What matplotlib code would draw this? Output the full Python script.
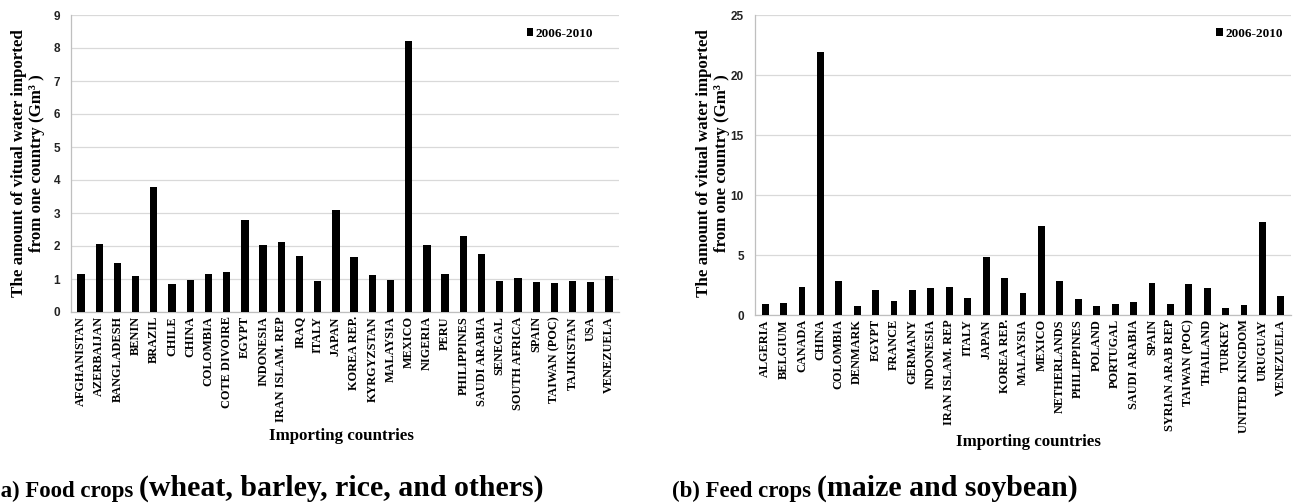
import matplotlib
matplotlib.use("Agg")
import matplotlib.pyplot as plt

# --- data
food_countries = ["AFGHANISTAN", "AZERBAIJAN", "BANGLADESH", "BENIN", "BRAZIL",
                  "CHILE", "CHINA", "COLOMBIA", "COTE DIVOIRE", "EGYPT",
                  "INDONESIA", "IRAN ISLAM. REP", "IRAQ", "ITALY", "JAPAN",
                  "KOREA REP.", "KYRGYZSTAN", "MALAYSIA", "MEXICO", "NIGERIA",
                  "PERU", "PHILIPPINES", "SAUDI ARABIA", "SENEGAL",
                  "SOUTH AFRICA", "SPAIN", "TAIWAN (POC)", "TAJIKISTAN", "USA",
                  "VENEZUELA"]
food_values = [1.16, 2.06, 1.48, 1.10, 3.80, 0.84, 0.98, 1.16, 1.22, 2.80,
               2.03, 2.12, 1.71, 0.93, 3.10, 1.66, 1.11, 0.98, 8.22, 2.02,
               1.14, 2.31, 1.76, 0.93, 1.04, 0.92, 0.88, 0.95, 0.90, 1.08]

feed_countries = ["ALGERIA", "BELGIUM", "CANADA", "CHINA", "COLOMBIA",
                  "DENMARK", "EGYPT", "FRANCE", "GERMANY", "INDONESIA",
                  "IRAN ISLAM. REP", "ITALY", "JAPAN", "KOREA REP.",
                  "MALAYSIA", "MEXICO", "NETHERLANDS", "PHILIPPINES",
                  "POLAND", "PORTUGAL", "SAUDI ARABIA", "SPAIN",
                  "SYRIAN ARAB REP", "TAIWAN (POC)", "THAILAND", "TURKEY",
                  "UNITED KINGDOM", "URUGUAY", "VENEZUELA"]
feed_values = [0.92, 1.00, 2.35, 21.9, 2.80, 0.75, 2.07, 1.20, 2.07, 2.29,
               2.34, 1.38, 4.83, 3.07, 1.82, 7.43, 2.85, 1.34, 0.78, 0.89,
               1.09, 2.63, 0.89, 2.57, 2.29, 0.56, 0.81, 7.74, 1.56]

series_label = "2006-2010"
ylabel = "The amount of vitual water imported\nfrom one country (Gm³ )"
xlabel = "Importing countries"

SERIF = "Liberation Serif"
SANS = "Liberation Sans"
GRID = "#d9d9d9"

fig = plt.figure(figsize=(12.93, 5.03), dpi=100)
W, H = 1293, 503


def px_axes(x0, x1, ytop, ybot):
    return fig.add_axes([x0 / W, 1 - ybot / H, (x1 - x0) / W, (ybot - ytop) / H])


def draw_panel(ax, countries, values, ymax, ystep, width, leg_anchor):
    x = range(len(countries))
    ax.bar(x, values, width=width, color="black", label=series_label, zorder=3)
    ax.set_xlim(-0.55, len(countries) - 0.45)
    ax.set_ylim(0, ymax)
    ax.set_yticks(range(0, ymax + 1, ystep))
    ax.set_xticks(list(x))
    ax.set_xticklabels(countries, rotation=90, fontfamily=SERIF,
                       fontweight="bold", fontsize=8.8)
    for lab in ax.get_yticklabels():
        lab.set_fontfamily(SANS)
        lab.set_fontweight("bold")
        lab.set_fontsize(8.5)
        lab.set_color("#222222")
    ax.tick_params(axis="both", length=0)
    ax.tick_params(axis="y", pad=8)
    ax.tick_params(axis="x", pad=3)
    ax.grid(axis="y", color=GRID, linewidth=0.9, zorder=0)
    ax.set_axisbelow(True)
    for s in ("top", "right"):
        ax.spines[s].set_visible(False)
    for s in ("left", "bottom"):
        ax.spines[s].set_color("#bfbfbf")
        ax.spines[s].set_linewidth(0.9)
    ax.legend(loc="upper right", bbox_to_anchor=leg_anchor,
              frameon=False, handlelength=0.5, handleheight=0.5,
              handletextpad=0.15, borderaxespad=0,
              prop={"family": SERIF, "weight": "bold", "size": 9.5})


ax1 = px_axes(71, 619, 15, 312)
draw_panel(ax1, food_countries, food_values, 9, 1, 0.4, (0.962, 0.975))

ax2 = px_axes(755, 1291, 15, 315)
draw_panel(ax2, feed_countries, feed_values, 25, 5, 0.37, (0.994, 0.975))

# y labels
for xc in (28, 713):
    fig.text(xc / W, 1 - 163 / H, ylabel, rotation=90, ha="center",
             va="center", multialignment="center", fontfamily=SERIF,
             fontweight="bold", fontsize=12.2, linespacing=1.2)

# x labels
fig.text(341 / W, 1 - 436 / H, xlabel, ha="center", va="center",
         fontfamily=SERIF, fontweight="bold", fontsize=12.2)
fig.text(1028 / W, 1 - 442 / H, xlabel, ha="center", va="center",
         fontfamily=SERIF, fontweight="bold", fontsize=12.2)

# panel captions, two sizes each
captions = [(-7, "(a) Food crops ", "(wheat, barley, rice, and others)"),
            (672, "(b) Feed crops ", "(maize and soybean)")]
for xp, head, tail in captions:
    t1 = fig.text(xp / W, 1 - 497 / H, head, ha="left", va="baseline",
                  fontfamily=SERIF, fontweight="bold", fontsize=16.5)
    ax1.annotate(tail, xy=(1, 0), xycoords=t1, ha="left", va="bottom",
                 fontfamily=SERIF, fontweight="bold", fontsize=21.5,
                 annotation_clip=False)

fig.savefig("out.png", dpi=100)
